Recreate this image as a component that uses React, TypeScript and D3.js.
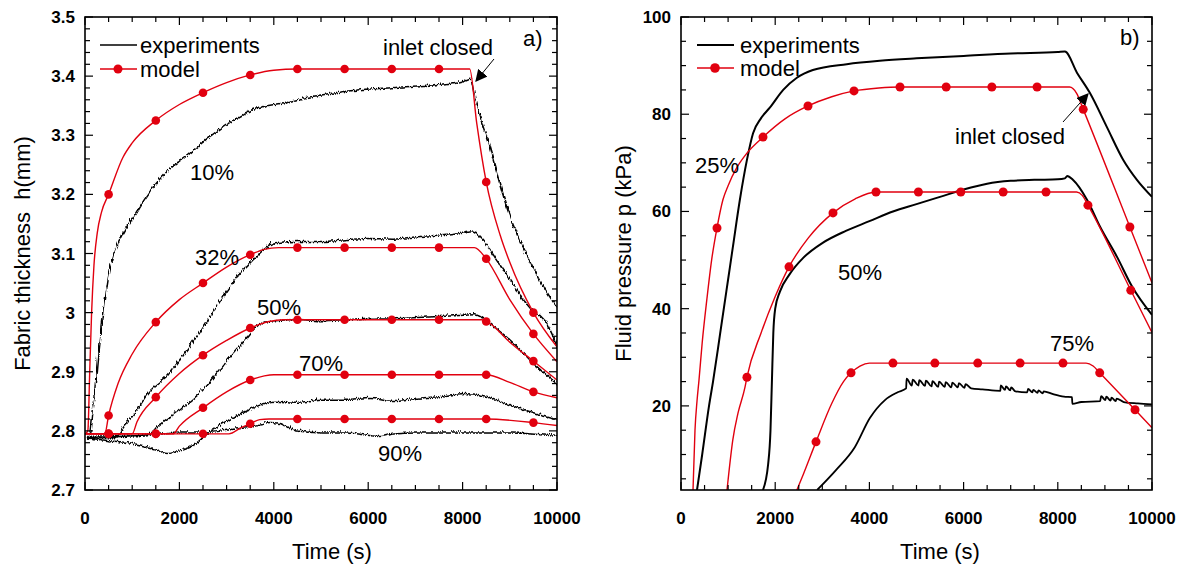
import React from 'react';
import * as d3 from 'd3';

type P = [number, number];

// ---------- axis ticks ----------
const timeTicks = [0, 2000, 4000, 6000, 8000, 10000];
const thickTicks = [2.7, 2.8, 2.9, 3, 3.1, 3.2, 3.3, 3.4, 3.5];
const pressTicks = [20, 40, 60, 80, 100];

// ---------- panel a) fabric thickness (mm) ----------
const model10: P[] = [[0, 2.795], [60, 2.8], [100, 2.9], [140, 3.0], [190, 3.08], [260, 3.135], [350, 3.17], [500, 3.2], [800, 3.262], [1000, 3.287], [1500, 3.325], [2000, 3.352], [2500, 3.372], [3000, 3.389], [3500, 3.402], [4000, 3.41], [4500, 3.412], [8150, 3.412], [8300, 3.32], [8500, 3.221], [8800, 3.13], [9000, 3.085], [9500, 3.0], [10000, 2.942]];
const model32: P[] = [[0, 2.795], [420, 2.795], [500, 2.826], [700, 2.88], [1000, 2.93], [1500, 2.984], [2000, 3.022], [2500, 3.05], [3000, 3.077], [3500, 3.098], [3800, 3.107], [4100, 3.11], [8250, 3.11], [8500, 3.091], [9000, 3.022], [9500, 2.964], [10000, 2.917]];
const model50: P[] = [[0, 2.795], [1000, 2.795], [1100, 2.815], [1500, 2.857], [2000, 2.897], [2500, 2.928], [3000, 2.953], [3500, 2.974], [3900, 2.985], [4200, 2.988], [8400, 2.988], [8550, 2.983], [9000, 2.95], [9500, 2.918], [10000, 2.886]];
const model70: P[] = [[0, 2.795], [1870, 2.795], [2000, 2.808], [2500, 2.839], [3000, 2.866], [3500, 2.886], [3800, 2.893], [4000, 2.895], [8500, 2.895], [9000, 2.882], [9500, 2.866], [10000, 2.856]];
const model90: P[] = [[0, 2.795], [3050, 2.795], [3300, 2.805], [3500, 2.812], [3700, 2.819], [3900, 2.82], [8500, 2.82], [9500, 2.814], [10000, 2.809]];

const dots10: P[] = [[500, 3.2], [1500, 3.325], [2500, 3.372], [3500, 3.402], [4500, 3.412], [5500, 3.412], [6500, 3.412], [7500, 3.412], [8500, 3.221], [9500, 3.0]];
const dots32: P[] = [[500, 2.826], [1500, 2.984], [2500, 3.05], [3500, 3.098], [4500, 3.11], [5500, 3.11], [6500, 3.11], [7500, 3.11], [8500, 3.091], [9500, 2.964]];
const dots50: P[] = [[500, 2.795], [1500, 2.857], [2500, 2.928], [3500, 2.974], [4500, 2.988], [5500, 2.988], [6500, 2.988], [7500, 2.988], [8500, 2.985], [9500, 2.918]];
const dots70: P[] = [[500, 2.795], [1500, 2.795], [2500, 2.839], [3500, 2.886], [4500, 2.895], [5500, 2.895], [6500, 2.895], [7500, 2.895], [8500, 2.895], [9500, 2.866]];
const dots90: P[] = [[500, 2.795], [1500, 2.795], [2500, 2.795], [3500, 2.812], [4500, 2.82], [5500, 2.82], [6500, 2.82], [7500, 2.82], [8500, 2.82], [9500, 2.814]];

const exp10: P[] = [[0, 2.79], [80, 2.8], [120, 2.83], [170, 2.86], [250, 2.93], [350, 3.0], [450, 3.06], [600, 3.106], [800, 3.14], [1000, 3.165], [1208, 3.192], [1525, 3.226], [1800, 3.248], [2160, 3.27], [2580, 3.298], [3140, 3.329], [3560, 3.346], [4200, 3.357], [4520, 3.363], [5000, 3.37], [5610, 3.377], [6460, 3.382], [7000, 3.385], [7500, 3.388], [7945, 3.393], [8140, 3.398], [8250, 3.36], [8520, 3.29], [8940, 3.174], [9470, 3.077], [9915, 3.018], [10000, 3.01]];
const exp32: P[] = [[0, 2.79], [600, 2.79], [800, 2.81], [1000, 2.83], [1335, 2.869], [1737, 2.898], [2000, 2.925], [2373, 2.966], [2924, 3.033], [3284, 3.072], [3560, 3.094], [3800, 3.112], [4000, 3.12], [4500, 3.122], [5000, 3.122], [5500, 3.125], [6000, 3.127], [6500, 3.126], [7000, 3.13], [7500, 3.133], [8000, 3.138], [8150, 3.14], [8400, 3.125], [8700, 3.09], [9000, 3.055], [9400, 3.01], [9700, 2.99], [10000, 2.94]];
const exp50: P[] = [[0, 2.79], [1300, 2.795], [1500, 2.81], [2010, 2.84], [2436, 2.869], [2924, 2.915], [3284, 2.949], [3700, 2.984], [3990, 2.988], [4500, 2.99], [5000, 2.988], [5500, 2.99], [6000, 2.992], [6500, 2.993], [7000, 2.995], [7500, 2.997], [8000, 2.999], [8220, 3.0], [8580, 2.982], [9070, 2.949], [9490, 2.915], [10000, 2.88]];
const exp70: P[] = [[0, 2.79], [500, 2.785], [1000, 2.78], [1500, 2.77], [1700, 2.765], [2000, 2.77], [2300, 2.78], [2600, 2.8], [3000, 2.82], [3500, 2.84], [4000, 2.852], [4500, 2.85], [5000, 2.855], [5500, 2.855], [6000, 2.858], [6500, 2.853], [7000, 2.857], [7500, 2.86], [8000, 2.865], [8500, 2.86], [9000, 2.845], [9500, 2.832], [10000, 2.822]];
const exp90: P[] = [[0, 2.792], [1000, 2.795], [2000, 2.8], [2500, 2.8], [3000, 2.805], [3500, 2.81], [3900, 2.816], [4200, 2.812], [4450, 2.803], [5000, 2.8], [5500, 2.8], [6240, 2.794], [6500, 2.798], [7000, 2.8], [8000, 2.8], [9000, 2.8], [10000, 2.794]];

// ---------- panel b) fluid pressure (kPa) ----------
const modelP25: P[] = [[255, 2.7], [297, 15], [340, 21], [382, 25.3], [450, 33], [550, 42], [650, 50], [764, 56.6], [890, 62.4], [1000, 65.3], [1190, 69.1], [1400, 72], [1741, 75.3], [2200, 79], [2696, 81.7], [3200, 83.6], [3673, 84.8], [4200, 85.4], [4650, 85.6], [8250, 85.6], [8400, 84.3], [8540, 81.0], [9530, 56.8], [10000, 45.3]];
const modelP50: P[] = [[977, 2.7], [1000, 4.8], [1100, 13], [1210, 18.5], [1360, 23.9], [1400, 25.9], [1700, 35], [2000, 42.5], [2293, 48.6], [2700, 54.5], [3227, 59.7], [3700, 62.6], [4140, 64.0], [4400, 64.0], [8400, 64.0], [8520, 63.3], [8640, 61.3], [9550, 43.8], [10000, 35.1]];
const modelP75: P[] = [[2460, 2.7], [2600, 6], [2866, 12.6], [3200, 20.5], [3450, 25], [3610, 26.8], [3800, 28.2], [4000, 28.8], [8600, 28.8], [8750, 28.2], [8890, 26.8], [9640, 19.2], [10000, 15.5]];

const dotsP25: P[] = [[764, 56.6], [1741, 75.3], [2696, 81.7], [3673, 84.8], [4650, 85.6], [5630, 85.6], [6600, 85.6], [7560, 85.6], [8540, 81.0], [9530, 56.8]];
const dotsP50: P[] = [[1400, 25.9], [2293, 48.6], [3227, 59.7], [4140, 64.0], [5040, 64.0], [5940, 64.0], [6840, 64.0], [7750, 64.0], [8640, 61.3], [9550, 43.8]];
const dotsP75: P[] = [[2866, 12.6], [3610, 26.8], [4500, 28.8], [5390, 28.8], [6300, 28.8], [7200, 28.8], [8110, 28.8], [8890, 26.8], [9640, 19.2]];

const expP25: P[] = [[340, 2.7], [450, 10], [595, 20], [680, 25], [830, 34.8], [1000, 46], [1100, 52.6], [1250, 62.4], [1400, 70.6], [1530, 76.1], [1700, 79.2], [1890, 81.4], [2170, 85], [2460, 87.5], [2800, 89.1], [3520, 90.3], [4220, 91], [5000, 91.5], [6000, 92], [7000, 92.5], [8000, 92.8], [8150, 92.9], [8410, 88.5], [8680, 84.4], [9040, 77.4], [9390, 70.6], [9680, 66.5], [10000, 63]];
const expP50: P[] = [[1740, 2.7], [1850, 8], [1900, 15], [1930, 25], [1960, 35], [2000, 40], [2100, 43.5], [2300, 47], [2600, 50.5], [3000, 53.5], [3500, 56], [4000, 58], [4500, 60], [5000, 61.5], [5500, 63], [6000, 64.5], [6500, 65.7], [7000, 66.3], [7500, 66.5], [8000, 66.6], [8150, 66.8], [8200, 67.3], [8320, 66.5], [8620, 62.4], [8900, 56.8], [9260, 50.6], [9580, 44.5], [10000, 38.7]];
const expP75: P[] = [[2890, 2.7], [3290, 6.8], [3690, 11.5], [4010, 17.5], [4330, 21.2], [4600, 22.8], [4780, 23.6], [4790, 25.6], [4900, 24.2], [4920, 25.4], [5040, 24.2], [5060, 25.3], [5180, 24.1], [5200, 25.2], [5320, 24.0], [5340, 25.1], [5460, 23.9], [5480, 25.0], [5600, 23.9], [5620, 24.9], [5740, 23.8], [5760, 24.8], [5880, 23.8], [5900, 24.7], [6020, 23.7], [6040, 24.5], [6160, 23.6], [6400, 23.4], [6780, 23.1], [6790, 24.2], [6880, 23.3], [6900, 24.0], [6990, 23.2], [7010, 23.8], [7100, 23.0], [7350, 22.8], [7370, 23.5], [7460, 22.8], [7480, 23.3], [7570, 22.7], [7590, 23.2], [7680, 22.6], [7700, 23.0], [7900, 22.4], [8130, 21.9], [8300, 21.8], [8310, 20.4], [8500, 20.8], [8900, 21.0], [8920, 22.0], [9010, 21.2], [9030, 21.9], [9120, 21.1], [9140, 21.7], [9230, 21.0], [9250, 21.5], [9400, 20.8], [9700, 20.5], [10000, 20.3]];

const RED = '#e1000f';
const FONT = '"Liberation Sans", Arial, Helvetica, sans-serif';

type Box = { x0: number; x1: number; y0: number; y1: number };

function Frame({ box, x, y, yMinorStep, xTickVals, yTickVals, yFmt, yMin, yMax }: any) {
  const minorX = d3.range(0, 10001, 500);
  const minorY = d3.range(yMin, yMax + 1e-9, yMinorStep);
  const isMajX = (v: number) => Math.abs(v % 2000) < 1e-6;
  const isMajY = (v: number) => yTickVals.some((t: number) => Math.abs(t - v) < 1e-6);
  return (
    <g>
      {minorX.map((v, i) => {
        const L = isMajX(v) ? 8 : 5;
        return (
          <g key={'x' + i}>
            <line x1={x(v)} x2={x(v)} y1={box.y1} y2={box.y1 - L} stroke="#000" strokeWidth={1.2} />
            <line x1={x(v)} x2={x(v)} y1={box.y0} y2={box.y0 + L} stroke="#000" strokeWidth={1.2} />
          </g>
        );
      })}
      {minorY.map((v, i) => {
        const L = isMajY(v) ? 8 : 5;
        return (
          <g key={'y' + i}>
            <line x1={box.x0} x2={box.x0 + L} y1={y(v)} y2={y(v)} stroke="#000" strokeWidth={1.2} />
            <line x1={box.x1} x2={box.x1 - L} y1={y(v)} y2={y(v)} stroke="#000" strokeWidth={1.2} />
          </g>
        );
      })}
      <rect x={box.x0} y={box.y0} width={box.x1 - box.x0} height={box.y1 - box.y0} fill="none" stroke="#000" strokeWidth={1.6} />
      {xTickVals.map((v: number) => (
        <text key={'xl' + v} x={x(v)} y={box.y1 + 34} textAnchor="middle" fontFamily={FONT} fontWeight="bold" fontSize={17}>{v}</text>
      ))}
      {yTickVals.map((v: number) => (
        <text key={'yl' + v} x={box.x0 - 10} y={y(v) + 6} textAnchor="end" fontFamily={FONT} fontWeight="bold" fontSize={17}>{yFmt(v)}</text>
      ))}
    </g>
  );
}

export default function App() {
  const W = 1181, H = 564;
  const A: Box = { x0: 85, x1: 557, y0: 17, y1: 490 };
  const B: Box = { x0: 681, x1: 1152, y0: 17, y1: 490 };
  const xA = d3.scaleLinear().domain([0, 10000]).range([A.x0, A.x1]);
  const yA = d3.scaleLinear().domain([2.7, 3.5]).range([A.y1, A.y0]);
  const xB = d3.scaleLinear().domain([0, 10000]).range([B.x0, B.x1]);
  const yB = d3.scaleLinear().domain([2.7, 100]).range([B.y1, B.y0]);

  const lineA = d3.line<P>().x(d => xA(d[0])).y(d => yA(d[1])).curve(d3.curveMonotoneX);
  const lineB = d3.line<P>().x(d => xB(d[0])).y(d => yB(d[1])).curve(d3.curveMonotoneX);

  const modelsA = [model10, model32, model50, model70, model90];
  const dotsA = [dots10, dots32, dots50, dots70, dots90];
  const expsA = [exp10, exp32, exp50, exp70, exp90];
  const modelsB = [modelP25, modelP50, modelP75];
  const dotsB = [dotsP25, dotsP50, dotsP75];

  const txt = { fontFamily: FONT, fontSize: 22 } as const;

  return (
    <svg width={W} height={H} style={{ position: 'absolute', left: 0, top: 0, background: '#fff' }}>
      <defs>
        <clipPath id="clipA"><rect x={A.x0} y={A.y0} width={A.x1 - A.x0} height={A.y1 - A.y0} /></clipPath>
        <clipPath id="clipB"><rect x={B.x0} y={B.y0} width={B.x1 - B.x0} height={B.y1 - B.y0} /></clipPath>
        <filter id="jit" x="-2%" y="-10%" width="104%" height="120%">
          <feTurbulence type="turbulence" baseFrequency="0.45 0.06" numOctaves={1} seed={7} result="n" />
          <feDisplacementMap in="SourceGraphic" in2="n" scale={4} xChannelSelector="R" yChannelSelector="G" />
        </filter>
        <marker id="arr" viewBox="0 0 10 10" refX="9" refY="5" markerWidth="12" markerHeight="12" markerUnits="userSpaceOnUse" orient="auto">
          <path d="M0,0 L10,5 L0,10 z" fill="#000" />
        </marker>
      </defs>
      <rect x={0} y={0} width={W} height={H} fill="#fff" />

      {/* ---------- Panel a ---------- */}
      <g clipPath="url(#clipA)">
        <g filter="url(#jit)">
          {expsA.map((d, i) => (
            <path key={'ea' + i} d={lineA(d) || ''} fill="none" stroke="#000" strokeWidth={1.5} />
          ))}
        </g>
        {modelsA.map((d, i) => (
          <path key={'ma' + i} d={lineA(d) || ''} fill="none" stroke={RED} strokeWidth={1.4} />
        ))}
        {dotsA.map((ds, i) => ds.map((d, j) => (
          <circle key={'da' + i + '-' + j} cx={xA(d[0])} cy={yA(d[1])} r={4.3} fill={RED} />
        )))}
      </g>
      <Frame box={A} x={xA} y={yA} yMinorStep={0.02} yMin={2.7} yMax={3.5} xTickVals={timeTicks} yTickVals={thickTicks}
        yFmt={(v: number) => (Math.abs(v - 3) < 1e-9 ? '3' : v.toFixed(1))} />

      {/* legend a */}
      <line x1={100} x2={137} y1={45} y2={45} stroke="#000" strokeWidth={1.4} />
      <text x={140} y={53} {...txt}>experiments</text>
      <line x1={100} x2={137} y1={69} y2={69} stroke={RED} strokeWidth={1.4} />
      <circle cx={118} cy={69} r={4.5} fill={RED} />
      <text x={140} y={77} {...txt}>model</text>

      <text x={383} y={55} {...txt}>inlet closed</text>
      <line x1={494} y1={59} x2={476} y2={81} stroke="#000" strokeWidth={1} markerEnd="url(#arr)" />
      <text x={523} y={46} {...txt}>a)</text>
      <text x={190} y={180} {...txt}>10%</text>
      <text x={195} y={265} {...txt}>32%</text>
      <text x={257} y={315} {...txt}>50%</text>
      <text x={299} y={371} {...txt}>70%</text>
      <text x={378} y={461} {...txt}>90%</text>

      <text x={332} y={559} {...txt} textAnchor="middle">Time (s)</text>
      <text transform={`translate(30, ${(A.y0 + A.y1) / 2}) rotate(-90)`} textAnchor="middle" {...txt} style={{ whiteSpace: 'pre' }}>Fabric thickness  h(mm)</text>

      {/* ---------- Panel b ---------- */}
      <g clipPath="url(#clipB)">
        {[expP25, expP50, expP75].map((d, i) => (
          <path key={'eb' + i} d={lineB(d) || ''} fill="none" stroke="#000" strokeWidth={i === 2 ? 1.8 : 2} strokeLinejoin="round" />
        ))}
        {modelsB.map((d, i) => (
          <path key={'mb' + i} d={lineB(d) || ''} fill="none" stroke={RED} strokeWidth={1.4} />
        ))}
        {dotsB.map((ds, i) => ds.map((d, j) => (
          <circle key={'db' + i + '-' + j} cx={xB(d[0])} cy={yB(d[1])} r={4.5} fill={RED} />
        )))}
      </g>
      <Frame box={B} x={xB} y={yB} yMinorStep={5} yMin={5} yMax={100} xTickVals={timeTicks} yTickVals={pressTicks}
        yFmt={(v: number) => String(v)} />

      {/* legend b */}
      <line x1={697} x2={734} y1={45} y2={45} stroke="#000" strokeWidth={1.8} />
      <text x={740} y={53} {...txt}>experiments</text>
      <line x1={697} x2={734} y1={68} y2={68} stroke={RED} strokeWidth={1.4} />
      <circle cx={715} cy={68} r={4.8} fill={RED} />
      <text x={740} y={76} {...txt}>model</text>

      <text x={955} y={144} {...txt}>inlet closed</text>
      <line x1={1063} y1={122} x2={1088} y2={94} stroke="#000" strokeWidth={1} markerEnd="url(#arr)" />
      <text x={1120} y={45} {...txt}>b)</text>
      <text x={695} y={173} {...txt}>25%</text>
      <text x={838} y={280} {...txt}>50%</text>
      <text x={1050} y={351} {...txt}>75%</text>

      <text x={940} y={559} {...txt} textAnchor="middle">Time (s)</text>
      <text transform={`translate(631, ${(B.y0 + B.y1) / 2}) rotate(-90)`} textAnchor="middle" {...txt}>Fluid pressure p (kPa)</text>
    </svg>
  );
}
